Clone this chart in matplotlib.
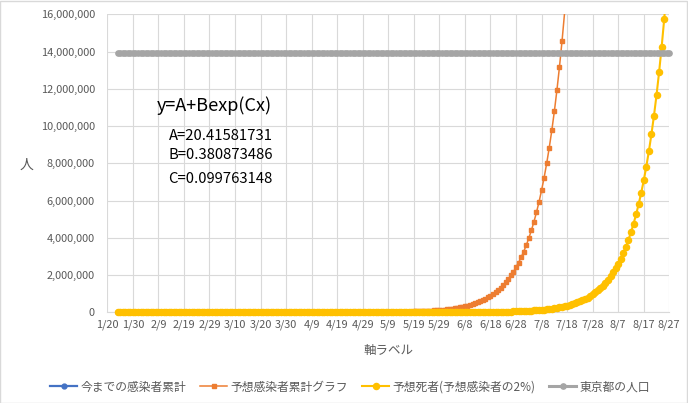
import matplotlib
matplotlib.use("Agg")
import matplotlib.pyplot as plt
import matplotlib.ticker as mticker
from matplotlib.lines import Line2D
from matplotlib.patches import Rectangle
import pandas as pd
import numpy as np

plt.rcParams['font.family'] = ['Noto Sans CJK JP', 'DejaVu Sans']

# ---------------- data ----------------
start_date = '2020-01-24'          # first data day (x = 1)
axis_start = '2020-01-20'
axis_end = '2020-08-27'
y_max = 16000000

series_names = ['今までの感染者累計', '予想感染者累計グラフ', '予想死者(予想感染者の2%)', '東京都の人口']

# actual cumulative infections (Tokyo), 1/24 - 3/25
actual_cum = [1, 1, 1, 1, 1, 1, 2, 2,
              2, 2, 2, 2, 2, 2, 2, 2, 2, 2, 2, 2,
              3, 5, 8, 13, 14, 17, 20, 22, 24, 26, 28, 29, 31, 32, 33, 35, 39,
              40, 41, 43, 46, 50, 54, 60, 63, 66, 67, 70, 72, 77, 80, 85, 89, 95,
              100, 114, 122, 129, 138, 154, 171, 212]

# predicted cumulative infections, daily from 1/24
predicted_cum = [20.8, 20.9, 20.9, 21.0, 21.0, 21.1, 21.2, 21.2, 21.3,
                 21.4, 21.5, 21.7, 21.8, 21.9, 22.1, 22.3, 22.5, 22.7, 22.9,
                 23.2, 23.5, 23.8, 24.2, 24.6, 25.0, 25.5, 26.0, 26.6, 27.3,
                 28.0, 28.8, 29.7, 30.6, 31.7, 32.9, 34.2, 35.7, 37.3, 39.0,
                 41.0, 43.2, 45.6, 48.2, 51.1, 54.3, 57.9, 61.8, 66.2, 71.0,
                 76.3, 82.1, 88.6, 95.8, 103.7, 112.4, 122.0, 132.7, 144.5, 157.5,
                 171.9, 187.8, 205.3, 224.7, 246.2, 269.9, 296.0, 324.9, 356.9, 392.2,
                 431, 474, 522, 575, 633, 697, 768, 846, 933, 1029,
                 1134, 1251, 1380, 1523, 1681, 1855, 2047, 2260, 2495, 2754,
                 3041, 3358, 3708, 4095, 4523, 4995, 5517, 6093, 6730, 7434,
                 8212, 9072, 10021, 11070, 12229, 13510, 14925, 16489, 18217, 20126,
                 22235, 24565, 27141, 29986, 33129, 36602, 40440, 44681, 49366, 54542,
                 60262, 66582, 73565, 81280, 89804, 99223, 109630, 121129, 133834, 147872,
                 163384, 180522, 199458, 220380, 243497, 269040, 297261, 328444, 362897, 400965,
                 443031, 489506, 540855, 597592, 660282, 729547, 806079, 890639, 984071, 1087304,
                 1201377, 1327407, 1466657, 1620516, 1790517, 1978351, 2185890, 2415201, 2668568, 2948515,
                 3257860, 3599628, 3977247, 4394481, 4855488, 5364859, 5927663, 6549507, 7236587, 7995748,
                 8834632, 9761436, 10785464, 11916920, 13167082, 14548399, 16074598, 17760920, 19624134, 21682850]

# predicted deaths, daily from 1/24
predicted_deaths = [0.42, 0.42, 0.42, 0.42, 0.42, 0.42, 0.42, 0.42, 0.43,
                    0.43, 0.43, 0.43, 0.44, 0.44, 0.44, 0.45, 0.45, 0.45, 0.46,
                    0.46, 0.47, 0.48, 0.48, 0.49, 0.50, 0.51, 0.52, 0.53, 0.55,
                    0.56, 0.58, 0.59, 0.61, 0.63, 0.66, 0.68, 0.71, 0.75, 0.78,
                    0.82, 0.86, 0.91, 0.96, 1.02, 1.09, 1.16, 1.24, 1.32, 1.42,
                    1.53, 1.64, 1.77, 1.92, 2.07, 2.25, 2.44, 2.65, 2.89, 3.15,
                    3.44, 3.76, 4.11, 4.49, 4.92, 5.40, 5.92, 6.50, 7.14, 7.84,
                    8.6, 9.5, 10.4, 11.5, 12.7, 13.9, 15.4, 16.9, 18.7, 20.6,
                    22.7, 25.0, 27.6, 30.5, 33.6, 37.1, 40.9, 45.2, 49.9, 55.1,
                    60.8, 67.2, 74.2, 81.9, 90.5, 99.9, 110.3, 121.9, 134.6, 148.7,
                    164, 181, 200, 221, 245, 270, 299, 330, 364, 403,
                    445, 491, 543, 600, 663, 732, 809, 894, 987, 1091,
                    1205, 1332, 1471, 1626, 1796, 1984, 2193, 2423, 2677, 2957,
                    3268, 3610, 3989, 4408, 4870, 5381, 5945, 6569, 7258, 8019,
                    8861, 9790, 10817, 11952, 13206, 14591, 16122, 17813, 19681, 21746,
                    24028, 26548, 29333, 32410, 35810, 39567, 43718, 48304, 53371, 58970,
                    65157, 71993, 79545, 87890, 97110, 107297, 118553, 130990, 144732, 159915,
                    176693, 195229, 215709, 238338, 263342, 290968, 321492, 355218, 392483, 433657,
                    479154, 529420, 584959, 646325, 714129, 789045, 871821, 963280, 1064334, 1175990,
                    1299370, 1435682, 1586293, 1752705, 1936573, 2139734, 2364205, 2612224, 2886262, 3189051,
                    3523620, 3893273, 4301695, 4752969, 5251586, 5802522, 6411230, 7083805, 7826940, 8648036,
                    9555360, 10557773, 11665348, 12889113, 14241260, 15735278, 17385980, 19209876]

tokyo_population = 13940000

formula_title = 'y=A+Bexp(Cx)'
formula_params = ['A=20.41581731', 'B=0.380873486', 'C=0.099763148']
y_axis_title = '人'
x_axis_title = '軸ラベル'

# ---------------- figure ----------------
W, H = 688, 403
fig = plt.figure(figsize=(W / 100, H / 100), dpi=100)
fig.patch.set_facecolor('white')

L, R, T, B = 107.3, 669.3, 14.3, 312.3
ax = fig.add_axes([L / W, 1 - B / H, (R - L) / W, (B - T) / H])

dates = pd.date_range(start_date, periods=len(predicted_deaths), freq='D')

c_blue, c_orange, c_yellow, c_gray = '#4472c4', '#ed7d31', '#ffc000', '#a5a5a5'

# clip region: top edge at the plot top, a little slack below / at the sides
clip_rect = Rectangle((-0.01, -0.04), 1.02, 1.04, transform=ax.transAxes)


def in_range(values):
    return [i for i, v in enumerate(values) if v <= y_max]


lines = []
lines += ax.plot(dates[:len(actual_cum)], actual_cum, color=c_blue, lw=1.6, marker='o',
                 ms=3.5, mec=c_blue, mfc=c_blue, zorder=3)
lines += ax.plot(dates[:len(predicted_cum)], predicted_cum, color=c_orange, lw=1.1, marker='s',
                 ms=3.0, mec=c_orange, mfc=c_orange, zorder=4,
                 markevery=in_range(predicted_cum))
lines += ax.plot(dates, predicted_deaths, color=c_yellow, lw=1.5, marker='o',
                 ms=4.4, mec=c_yellow, mfc=c_yellow, zorder=5,
                 markevery=in_range(predicted_deaths))
lines += ax.plot(dates, [tokyo_population] * len(dates), color=c_gray, lw=2.2, marker='o',
                 ms=3.8, mec=c_gray, mfc=c_gray, zorder=6)
for ln in lines:
    ln.set_clip_path(clip_rect)

ax.set_xlim(pd.Timestamp(axis_start), pd.Timestamp(axis_end))
ax.set_ylim(0, y_max)

xticks = pd.date_range(axis_start, axis_end, freq='10D')
ax.set_xticks(xticks)
ax.set_xticklabels([f'{d.month}/{d.day}' for d in xticks])
ax.set_yticks(np.arange(0, y_max + 1, 2000000))
ax.yaxis.set_major_formatter(mticker.FuncFormatter(lambda v, p: f'{v:,.0f}'))

ax.grid(True, color='#d9d9d9', lw=0.8, zorder=0)
ax.set_axisbelow(True)
for s in ['top', 'right', 'left']:
    ax.spines[s].set_visible(False)
ax.spines['bottom'].set_color('#d9d9d9')
ax.spines['bottom'].set_linewidth(0.8)
ax.tick_params(axis='both', length=0, labelsize=7.9, labelcolor='#595959')
ax.tick_params(axis='y', pad=9)
ax.tick_params(axis='x', pad=5.5)

# texts
fig.text(214 / W, 1 - 106 / H, formula_title, ha='center', va='center', fontsize=13, color='black')
for txt, yp, xp in zip(formula_params, [136, 155, 179], [169, 169, 168]):
    fig.text(xp / W, 1 - yp / H, txt, ha='left', va='center', fontsize=10.7, color='black')

fig.text(27 / W, 1 - 165 / H, y_axis_title, ha='center', va='center', fontsize=10, color='#595959')
fig.text(388 / W, 1 - 350 / H, x_axis_title, ha='center', va='center', fontsize=9, color='#595959')

handles = [
    Line2D([], [], color=c_blue, lw=1.6, marker='o', ms=3.5),
    Line2D([], [], color=c_orange, lw=1.1, marker='s', ms=3.0),
    Line2D([], [], color=c_yellow, lw=1.5, marker='o', ms=4.4),
    Line2D([], [], color=c_gray, lw=2.2, marker='o', ms=3.8),
]
leg = fig.legend(handles, series_names, loc='center', bbox_to_anchor=(350 / W, 1 - 387 / H),
                 ncol=4, frameon=False, fontsize=8.5, handlelength=2.3, handletextpad=0.25,
                 columnspacing=1.2, numpoints=1)
for t in leg.get_texts():
    t.set_color('#595959')

fig.patches.append(Rectangle((0.0005, 0.001), 0.998, 0.997, transform=fig.transFigure,
                             fill=False, edgecolor='#d9d9d9', lw=1))

fig.savefig('out.png', dpi=100)
